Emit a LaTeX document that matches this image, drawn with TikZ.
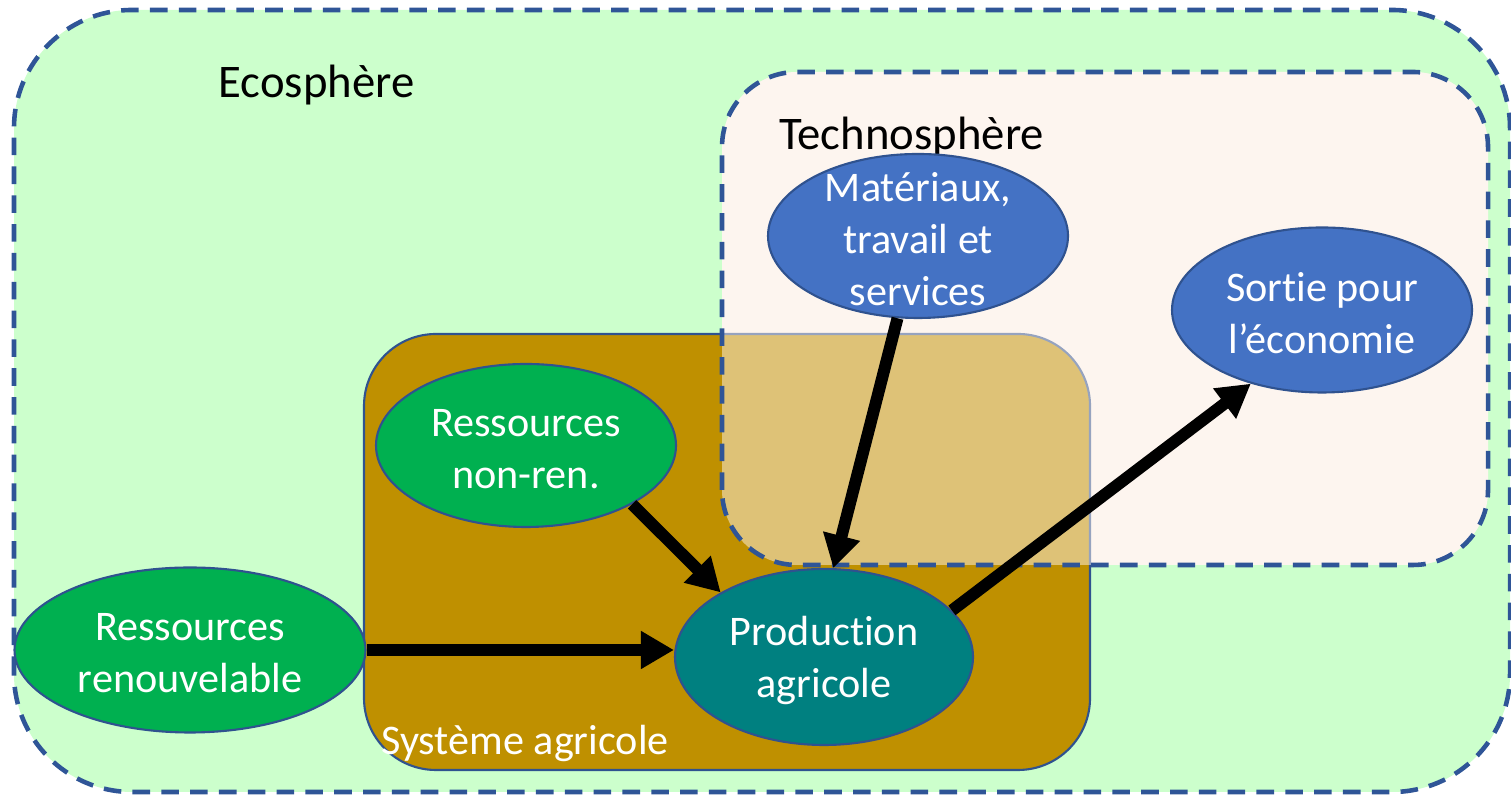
\documentclass[tikz,border=0pt]{standalone}
\usepackage{fontspec}
\setmainfont{Carlito}[Ligatures=NoCommon]
\usetikzlibrary{shapes.geometric,arrows.meta}

\definecolor{ecovert}{HTML}{CCFFCC}
\definecolor{technorose}{HTML}{FDF5EF}
\definecolor{agriors}{HTML}{BF9000}
\definecolor{tiret}{HTML}{2F5597}
\definecolor{contour}{HTML}{2F528F}
\definecolor{bleu}{HTML}{4472C4}
\definecolor{vert}{HTML}{00B050}
\definecolor{sarcelle}{HTML}{008080}

\tikzset{
	sphere/.style={draw=tiret, line width=1.3pt, dash pattern=on 5pt off 3.2pt},
	bulle/.style={ellipse, draw=contour, line width=0.6pt, inner sep=0pt, minimum width=3cm},
	wtxt/.style={text=white, font=\fontsize{12}{14.8}\selectfont, align=center},
	titre/.style={anchor=base, font=\fontsize{13.3}{16}\selectfont},
	flux/.style={line width=3.4pt, -{Triangle[length=9.4pt,width=10.2pt]}}
}

\begin{document}
\begin{tikzpicture}
	\useasboundingbox (0,0) rectangle (15.11,7.95);
	% spheres
	\fill[ecovert, rounded corners=1.18cm] (0.14,0.03) rectangle (15.10,7.85);
	\draw[sphere, rounded corners=1.18cm] (0.14,0.03) rectangle (15.10,7.85);
	\fill[technorose, rounded corners=0.75cm] (7.22,2.30) rectangle (14.88,7.23);
	\filldraw[fill=agriors, draw=contour, line width=0.6pt, rounded corners=0.72cm] (3.64,0.25) rectangle (10.90,4.61);
	\fill[technorose, fill opacity=0.5, rounded corners=0.75cm] (7.22,2.30) rectangle (14.88,7.23);
	\draw[sphere, rounded corners=0.75cm] (7.22,2.30) rectangle (14.88,7.23);
	
	\node[titre] (eco) at (3.165,6.97) {Ecosphère};
	\node[titre] (techno) at (9.115,6.45) {Technosphère};
	\node[wtxt, anchor=base] (agri) at (5.25,0.40) {Système agricole};
	
	\node[bulle, fill=bleu, minimum height=1.64cm, label={[wtxt, yshift=-1pt]center:{Matériaux,\\travail et\\services}}] (mat) at (9.18,5.59) {};
	\node[bulle, fill=bleu, minimum height=1.65cm, label={[wtxt, yshift=-1pt]center:{Sortie pour\\l’économie}}] (sortie) at (13.22,4.85) {};
	\node[bulle, fill=vert, minimum height=1.63cm, label={[wtxt, yshift=-1pt]center:{Ressources\\non-ren.}}] (nonren) at (5.26,3.495) {};
	\node[bulle, fill=vert, minimum width=3.51cm, minimum height=1.65cm, label={[wtxt, yshift=-1pt]center:{Ressources\\renouvelable}}] (renouv) at (1.90,1.45) {};
	\node[bulle, fill=sarcelle, minimum width=2.98cm, minimum height=1.76cm, label={[wtxt, yshift=-1pt]center:{Production\\agricole}}] (prod) at (8.24,1.38) {};
	
	\draw[flux] (renouv.east) -- (renouv.east -| prod.west);
	\draw[flux] (nonren.-29) -- (prod.148);
	\draw[flux] (mat.-104) -- (prod.84);
	\draw[flux] (prod.20) -- (sortie.226);
\end{tikzpicture}
\end{document}
